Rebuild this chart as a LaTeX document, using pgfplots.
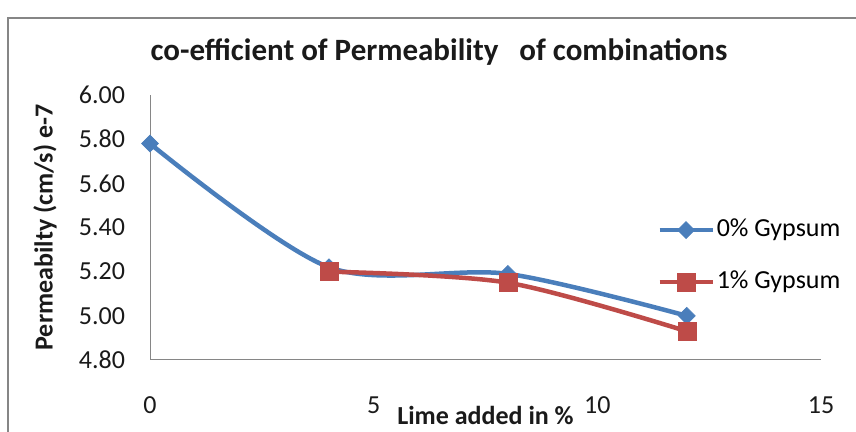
\documentclass[border=0pt]{standalone}
\usepackage{fontspec}
\setmainfont{Carlito}
\usepackage{pgfplots}
\pgfplotsset{compat=1.18}
\definecolor{blueS}{HTML}{4A7EBB}
\definecolor{redS}{HTML}{BE4B48}
\definecolor{axgray}{HTML}{868686}
\definecolor{txt}{HTML}{1A1A1A}
\begin{document}
\begin{tikzpicture}
\useasboundingbox (0,0) rectangle (428pt,216pt);
\draw[axgray, line width=1pt] (4pt,-10pt) -- (4pt,207pt) -- (440pt,207pt);
\begin{axis}[
 at={(75pt,36pt)}, anchor=south west,
 scale only axis, width=335.5pt, height=132.5pt,
 xmin=0, xmax=15, ymin=4.8, ymax=6.0,
 clip=false,
 axis x line*=bottom, axis y line*=left,
 axis line style={axgray, line width=0.5pt, -},
 xtick={0,5,10,15}, ytick={4.8,5.0,5.2,5.4,5.6,5.8,6.0},
 major tick length=0pt,
 /pgf/number format/assume math mode=true,
 yticklabel style={/pgf/number format/fixed, /pgf/number format/fixed zerofill, /pgf/number format/precision=2},
 every tick label/.append style={font=\fontsize{13}{15}\selectfont, text=txt},
 every x tick label/.append style={yshift=-15pt},
 every y tick label/.append style={xshift=-9pt},
 xlabel={\textbf{Lime added in \%}},
 ylabel={\textbf{Permeabilty (cm/s) e-7}},
 every axis x label/.style={at={(axis description cs:0.5,0)}, yshift=-27.5pt, anchor=center, font=\fontsize{13}{15}\selectfont, text=txt},
 every axis y label/.style={at={(axis description cs:0,0.5)}, xshift=-52.5pt, rotate=90, anchor=center, font=\fontsize{13}{15}\selectfont, text=txt},
 title={\textbf{co-efficient of Permeability\ \ \ of combinations}},
 every axis title/.style={at={(axis description cs:0.4307,1)}, yshift=21.5pt, anchor=center, font=\fontsize{15.5}{18}\selectfont, text=txt},
 legend cell align=left,
 legend style={draw=none, fill=none, inner sep=0pt, outer sep=0pt,
   at={(axis description cs:0.756,0.392)}, anchor=west,
   row sep=12pt,
   font=\fontsize{13}{15}\selectfont,
   nodes={text height=9pt, text depth=3pt, inner sep=1pt}},
 legend image code/.code={\draw[mark repeat=2,mark phase=2] plot coordinates {(0pt,0pt)(13.25pt,0pt)(26.5pt,0pt)};},
]
\addplot[blueS, line width=2.25pt, smooth, tension=0.5, mark=square*, mark size=3pt, mark options={rotate=45, fill=blueS, draw=blueS, line width=0.3pt}]
 coordinates {(0,5.78) (4,5.22) (8,5.19) (12,5.00)};
\addlegendentry{0\% Gypsum}
\addplot[redS, line width=2.25pt, smooth, tension=0.5, mark=square*, mark size=4.5pt, mark options={fill=redS, draw=redS, line width=0.3pt}]
 coordinates {(4,5.20) (8,5.15) (12,4.93)};
\addlegendentry{1\% Gypsum}
\end{axis}
\end{tikzpicture}
\end{document}
